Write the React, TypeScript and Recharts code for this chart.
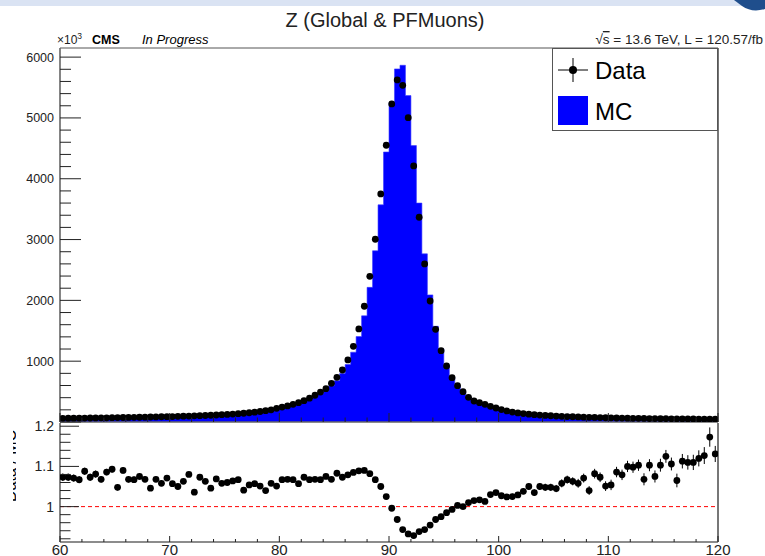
import React from 'react'
import { ComposedChart, Area, Scatter, XAxis, YAxis, ReferenceLine, ErrorBar } from 'recharts'

// Z -> mumu invariant mass, 0.5 GeV bins from 60 to 120 (values in units of 10^3)
const dataCounts = [
  61, 62, 63, 64, 65, 66, 67, 68, 69, 71,
  72, 74, 75, 77, 78, 80, 82, 84, 86, 88,
  90, 93, 95, 98, 101, 104, 107, 111, 115, 120,
  125, 131, 137, 144, 152, 162, 173, 186, 200, 225,
  245, 265, 290, 318, 350, 392, 440, 492, 548, 636,
  735, 855, 1020, 1245, 1530, 1903, 2396, 3005, 3750, 4551,
  5230, 5625, 5537, 5005, 4211, 3367, 2599, 1990, 1524, 1173,
  921, 729, 597, 498, 406, 345, 318, 290, 258, 230,
  204, 182, 164, 150, 139, 129, 121, 114, 108, 103,
  98, 94, 90, 86, 83, 80, 77, 75, 72, 70,
  68, 66, 64, 63, 61, 60, 58, 57, 56, 55,
  54, 53, 52, 51, 50, 49, 48, 47, 46, 45,
]

const mcCounts = [
  57, 58, 59, 60, 60, 62, 62, 64, 64, 65,
  69, 68, 70, 72, 73, 75, 78, 79, 81, 82,
  85, 89, 89, 91, 98, 97, 101, 106, 108, 113,
  118, 123, 128, 138, 144, 153, 165, 179, 189, 214,
  230, 248, 272, 301, 326, 367, 412, 461, 510, 596,
  679, 797, 945, 1148, 1405, 1746, 2214, 2816, 3571, 4440,
  5250, 5806, 5866, 5367, 4545, 3600, 2765, 2090, 1574, 1203,
  935, 734, 595, 498, 402, 340, 313, 286, 251, 222,
  199, 178, 160, 146, 134, 123, 117, 109, 103, 98,
  94, 89, 84, 81, 78, 75, 74, 69, 67, 67,
  65, 61, 59, 57, 56, 54, 54, 52, 52, 50,
  48, 48, 49, 46, 45, 44, 43, 42, 39, 40,
]

const ratioVals = [
  1.073, 1.073, 1.071, 1.067, 1.088, 1.073, 1.081, 1.068, 1.086, 1.093,
  1.048, 1.09, 1.068, 1.067, 1.075, 1.068, 1.046, 1.068, 1.058, 1.071,
  1.057, 1.05, 1.063, 1.08, 1.036, 1.073, 1.063, 1.046, 1.069, 1.058,
  1.06, 1.064, 1.067, 1.041, 1.054, 1.057, 1.051, 1.04, 1.058, 1.051,
  1.067, 1.068, 1.067, 1.057, 1.073, 1.067, 1.068, 1.067, 1.075, 1.068,
  1.083, 1.073, 1.079, 1.085, 1.089, 1.09, 1.082, 1.067, 1.05, 1.025,
  0.996, 0.968, 0.943, 0.932, 0.928, 0.938, 0.943, 0.954, 0.968, 0.975,
  0.985, 0.993, 1.003, 1.0, 1.01, 1.015, 1.017, 1.013, 1.03, 1.035,
  1.027, 1.024, 1.025, 1.029, 1.038, 1.05, 1.035, 1.05, 1.048, 1.048,
  1.045, 1.058, 1.067, 1.063, 1.058, 1.071, 1.04, 1.082, 1.073, 1.051,
  1.054, 1.086, 1.079, 1.1, 1.098, 1.103, 1.068, 1.103, 1.075, 1.103,
  1.125, 1.106, 1.065, 1.113, 1.11, 1.11, 1.12, 1.127, 1.173, 1.131,
]

const ratioErrs = [
  0.009, 0.009, 0.009, 0.009, 0.009, 0.009, 0.009, 0.008, 0.008, 0.008,
  0.008, 0.008, 0.008, 0.008, 0.008, 0.007, 0.007, 0.007, 0.007, 0.007,
  0.007, 0.007, 0.006, 0.006, 0.006, 0.006, 0.006, 0.006, 0.006, 0.005,
  0.005, 0.005, 0.005, 0.005, 0.005, 0.004, 0.004, 0.004, 0.004, 0.004,
  0.004, 0.004, 0.004, 0.003, 0.003, 0.003, 0.003, 0.003, 0.003, 0.003,
  0.003, 0.002, 0.002, 0.002, 0.002, 0.002, 0.002, 0.002, 0.002, 0.002,
  0.002, 0.002, 0.002, 0.002, 0.002, 0.002, 0.002, 0.002, 0.002, 0.003,
  0.003, 0.003, 0.003, 0.004, 0.004, 0.004, 0.005, 0.005, 0.005, 0.006,
  0.006, 0.006, 0.007, 0.007, 0.007, 0.008, 0.008, 0.008, 0.009, 0.009,
  0.009, 0.010, 0.010, 0.010, 0.011, 0.011, 0.011, 0.012, 0.012, 0.012,
  0.013, 0.013, 0.013, 0.014, 0.014, 0.014, 0.015, 0.015, 0.015, 0.016,
  0.016, 0.016, 0.017, 0.018, 0.018, 0.019, 0.020, 0.021, 0.024, 0.020,
]

const xTicks = [
  60, 62, 64, 66, 68, 70, 72, 74, 76, 78, 80, 82, 84, 86, 88, 90,
  92, 94, 96, 98, 100, 102, 104, 106, 108, 110, 112, 114, 116, 118, 120,
]
const topYTicks = [
  0, 200, 400, 600, 800, 1000, 1200, 1400, 1600, 1800, 2000, 2200, 2400, 2600, 2800, 3000,
  3200, 3400, 3600, 3800, 4000, 4200, 4400, 4600, 4800, 5000, 5200, 5400, 5600, 5800, 6000,
]
const ratioYTicks = [0.92, 0.94, 0.96, 0.98, 1.0, 1.02, 1.04, 1.06, 1.08, 1.1, 1.12, 1.14, 1.16, 1.18, 1.2]

const X_MIN = 60
const X_MAX = 120
const BIN = 0.5
const TOP_MAX = 6150
const RATIO_DOMAIN: [number, number] = [0.912, 1.208]

const W = 765
const PLOT_LEFT = 60
const PLOT_RIGHT = 718
const RATIO_TOP = 423
const RATIO_PAD = 14 // room above the ratio frame so the "1.2" label is not clipped
const HALF_BIN_PX = ((PLOT_RIGHT - PLOT_LEFT) / (X_MAX - X_MIN)) * BIN / 2

const FONT = '"Liberation Sans", Arial, Helvetica, sans-serif'
const AXIS = '#666'
const INK = '#222'

// histogram steps: lower bin edges plus the closing edge
const mcSteps = mcCounts.map((v, i) => ({ x: X_MIN + i * BIN, mc: v }))
mcSteps.push({ x: X_MAX, mc: mcCounts[mcCounts.length - 1] })

const dataPoints = dataCounts.map((v, i) => ({ x: X_MIN + (i + 0.5) * BIN, y: v }))
const ratioPoints = ratioVals.map((v, i) => ({ x: X_MIN + (i + 0.5) * BIN, y: v, e: ratioErrs[i] }))

function DataDot(props: any) {
  const { cx, cy } = props
  if (cx == null || cy == null) return null
  return (
    <g>
      <line x1={cx - HALF_BIN_PX} x2={cx + HALF_BIN_PX} y1={cy} y2={cy} stroke="#000" strokeWidth={1} />
      <circle cx={cx} cy={cy} r={3.4} fill="#000" />
    </g>
  )
}

function TopYTick(props: any) {
  const { x, y, payload } = props
  const v = payload.value
  const major = v % 1000 === 0
  return (
    <g>
      <line x1={x} x2={x + (major ? 21 : 11)} y1={y} y2={y} stroke={INK} />
      {major && v > 0 && (
        <text x={x - 6} y={y + 4.5} textAnchor="end" fontSize={12.5} fill={INK} fontFamily={FONT}>
          {v}
        </text>
      )}
    </g>
  )
}

function TopXTick(props: any) {
  const { x, y, payload } = props
  const major = payload.value % 10 === 0
  return <line x1={x} x2={x} y1={y} y2={y - (major ? 9 : 4.5)} stroke={INK} />
}

function RatioYTick(props: any) {
  const { x, y, payload } = props
  const v = payload.value
  const major = Math.abs(v * 10 - Math.round(v * 10)) < 1e-6
  const label = Math.abs(v - 1) < 1e-6 ? '1' : v.toFixed(1)
  return (
    <g>
      <line x1={x} x2={x + (major ? 19 : 10.5)} y1={y} y2={y} stroke={INK} />
      {major && (
        <text x={x - 6} y={y + 5} textAnchor="end" fontSize={14} fill={INK} fontFamily={FONT}>
          {label}
        </text>
      )}
    </g>
  )
}

function RatioXTick(props: any) {
  const { x, y, payload } = props
  const major = payload.value % 10 === 0
  return (
    <g>
      <line x1={x} x2={x} y1={y} y2={y - (major ? 6 : 3)} stroke={INK} />
      {major && (
        <text x={x} y={y + 12.5} textAnchor="middle" fontSize={15} fill={INK} fontFamily={FONT}>
          {payload.value}
        </text>
      )}
    </g>
  )
}

function MainPanel() {
  return (
    <ComposedChart width={W} height={RATIO_TOP} data={mcSteps} margin={{ top: 48, right: W - PLOT_RIGHT, left: 0, bottom: 0 }}>
      <XAxis
        dataKey="x"
        type="number"
        domain={[X_MIN, X_MAX]}
        ticks={xTicks}
        interval={0}
        height={1}
        tickSize={0}
        tickMargin={0}
        tick={<TopXTick />}
        axisLine={{ stroke: AXIS, strokeWidth: 1.6 }}
        tickLine={false}
        allowDataOverflow
      />
      <YAxis
        dataKey="y"
        type="number"
        domain={[0, TOP_MAX]}
        ticks={topYTicks}
        interval={0}
        width={PLOT_LEFT}
        tickSize={0}
        tickMargin={0}
        tick={<TopYTick />}
        axisLine={{ stroke: AXIS, strokeWidth: 1.6 }}
        tickLine={false}
        allowDataOverflow
      />
      <Area
        type="stepAfter"
        dataKey="mc"
        fill="#0000ff"
        fillOpacity={1}
        stroke="#3a3aff"
        strokeWidth={0.6}
        isAnimationActive={false}
        dot={false}
        activeDot={false}
      />
      <Scatter data={dataPoints} fill="#000" shape={<DataDot />} isAnimationActive={false} />
      <ReferenceLine y={TOP_MAX} stroke="#555" strokeWidth={1} />
      <ReferenceLine x={X_MAX} stroke="#555" strokeWidth={1.6} />
    </ComposedChart>
  )
}

function RatioPanel() {
  return (
    <ComposedChart width={W} height={133 + RATIO_PAD} margin={{ top: RATIO_PAD, right: W - PLOT_RIGHT, left: 0, bottom: 0 }}>
      <XAxis
        dataKey="x"
        type="number"
        domain={[X_MIN, X_MAX]}
        ticks={xTicks}
        interval={0}
        height={14}
        tickSize={0}
        tickMargin={0}
        tick={<RatioXTick />}
        axisLine={{ stroke: AXIS, strokeWidth: 1.6 }}
        tickLine={false}
        allowDataOverflow
      />
      <YAxis
        dataKey="y"
        type="number"
        domain={RATIO_DOMAIN}
        ticks={ratioYTicks}
        interval={0}
        width={PLOT_LEFT}
        tickSize={0}
        tickMargin={0}
        tick={<RatioYTick />}
        axisLine={{ stroke: AXIS, strokeWidth: 1.6 }}
        tickLine={false}
        allowDataOverflow
      />
      <ReferenceLine y={1} stroke="#ff0000" strokeDasharray="4 3" strokeWidth={1} />
      <ReferenceLine x={X_MAX} stroke="#555" strokeWidth={1.6} />
      <Scatter data={ratioPoints} fill="#000" shape={<DataDot />} isAnimationActive={false}>
        <ErrorBar dataKey="e" direction="y" width={0} stroke="#000" strokeWidth={1} isAnimationActive={false} />
      </Scatter>
    </ComposedChart>
  )
}

function Annotations() {
  return (
    <svg width={W} height={556} style={{ position: 'absolute', left: 0, top: 0, pointerEvents: 'none' }} fontFamily={FONT}>
      <defs>
        <clipPath id="edgeClip">
          <rect x={13} y={415} width={3} height={100} />
        </clipPath>
      </defs>
      <path d="M734 0 L765 0 L765 9 Q752 13 742 6 Z" fill="#1f4e8c" />
      <text x={385} y={27} textAnchor="middle" fontSize={20} fill={INK}>
        Z (Global &amp; PFMuons)
      </text>
      <text x={57} y={44} fontSize={12} fill={INK}>
        ×10<tspan dy={-5} fontSize={8.5}>3</tspan>
      </text>
      <text x={92} y={44} fontSize={12.5} fontWeight="bold" fill="#000">
        CMS
      </text>
      <text x={142} y={44} fontSize={13} fontStyle="italic" fill="#000">
        In Progress
      </text>
      <text x={763} y={44} textAnchor="end" fontSize={13.5} fill={INK}>
        √<tspan style={{ textDecoration: 'overline' }}>s</tspan> = 13.6 TeV, L = 120.57/fb
      </text>

      {/* legend */}
      <rect x={552.5} y={48.5} width={165} height={82} fill="#fff" stroke="#555" strokeWidth={1} />
      <line x1={558} x2={588} y1={70} y2={70} stroke="#000" strokeWidth={1} />
      <line x1={573} x2={573} y1={58} y2={82} stroke="#000" strokeWidth={1} />
      <circle cx={573} cy={70} r={4} fill="#000" />
      <text x={595} y={79} fontSize={24} fill="#000">
        Data
      </text>
      <rect x={558} y={96} width={30} height={29} fill="#0000ff" />
      <text x={595} y={120} fontSize={24} fill="#000">
        MC
      </text>

      {/* ratio axis title, cut off by the left edge */}
      <g clipPath="url(#edgeClip)">
        <text x={17} y={466} transform="rotate(-90 17 466)" textAnchor="middle" fontSize={16} fill="#000" dy={-1}>
          Data / MC
        </text>
      </g>
    </svg>
  )
}

export default function App() {
  return (
    <div style={{ position: 'fixed', left: 0, top: 0, width: W, height: 556, background: '#fff', overflow: 'hidden' }}>
      <div style={{ position: 'absolute', left: 0, top: 0, width: W, height: 6, background: '#dae3f3' }} />
      <div style={{ position: 'absolute', left: 0, top: 0 }}>
        <MainPanel />
      </div>
      <div style={{ position: 'absolute', left: 0, top: RATIO_TOP - RATIO_PAD }}>
        <RatioPanel />
      </div>
      <Annotations />
    </div>
  )
}
